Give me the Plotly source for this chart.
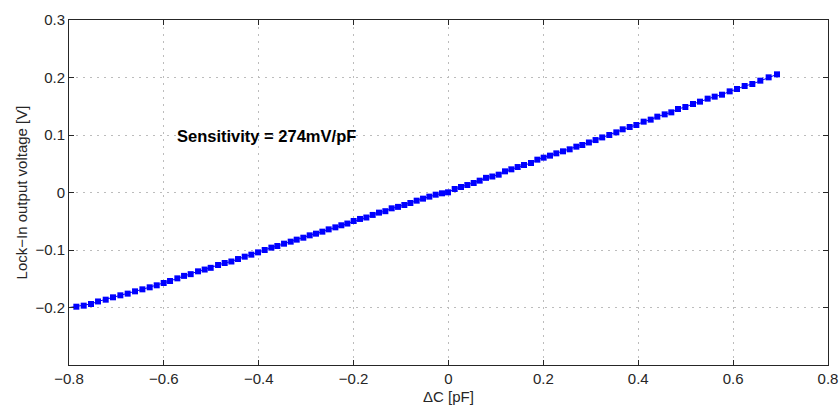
import plotly.graph_objects as go

# ΔC [pF]
delta_c = [
    -0.8100, -0.7845, -0.7690, -0.7536, -0.7388, -0.7226, -0.7072, -0.6917, -0.6763, -0.6608,
    -0.6453, -0.6299, -0.6151, -0.6004, -0.5870, -0.5716, -0.5575, -0.5435, -0.5280, -0.5140,
    -0.5013, -0.4858, -0.4718, -0.4577, -0.4437, -0.4296, -0.4156, -0.4015, -0.3875, -0.3734,
    -0.3608, -0.3467, -0.3327, -0.3200, -0.3060, -0.2926, -0.2793, -0.2659, -0.2526, -0.2385,
    -0.2259, -0.2132, -0.1999, -0.1865, -0.1732, -0.1598, -0.1465, -0.1331, -0.1198, -0.1064,
    -0.0931, -0.0804, -0.0671, -0.0537, -0.0404, -0.0270, -0.0137, -0.0010, 0.0130, 0.0264,
    0.0397, 0.0531, 0.0657, 0.0791, 0.0924, 0.1058, 0.1191, 0.1325, 0.1458, 0.1592,
    0.1739, 0.1873, 0.2006, 0.2140, 0.2273, 0.2414, 0.2554, 0.2695, 0.2821, 0.2960,
    0.3100, 0.3240, 0.3390, 0.3538, 0.3672, 0.3819, 0.3960, 0.4114, 0.4262, 0.4402,
    0.4557, 0.4697, 0.4838, 0.4993, 0.5154, 0.5302, 0.5463, 0.5611, 0.5765, 0.5927,
    0.6082, 0.6243, 0.6405, 0.6573, 0.6749, 0.6925,
]

# Lock-In output voltage [V]
voltage = [
    -0.2015, -0.1986, -0.1968, -0.1939, -0.1895, -0.1864, -0.1823, -0.1788, -0.1759, -0.1719,
    -0.1684, -0.1649, -0.1614, -0.1574, -0.1539, -0.1493, -0.1450, -0.1420, -0.1371, -0.1340,
    -0.1310, -0.1261, -0.1226, -0.1200, -0.1157, -0.1116, -0.1081, -0.1041, -0.1000, -0.0959,
    -0.0930, -0.0890, -0.0855, -0.0820, -0.0786, -0.0745, -0.0716, -0.0681, -0.0641, -0.0606,
    -0.0570, -0.0540, -0.0496, -0.0460, -0.0435, -0.0390, -0.0350, -0.0325, -0.0275, -0.0250,
    -0.0217, -0.0183, -0.0142, -0.0107, -0.0072, -0.0038, -0.0014, 0.0003, 0.0061, 0.0096,
    0.0130, 0.0165, 0.0206, 0.0255, 0.0278, 0.0310, 0.0368, 0.0403, 0.0443, 0.0478,
    0.0513, 0.0571, 0.0606, 0.0641, 0.0681, 0.0716, 0.0751, 0.0797, 0.0826, 0.0870,
    0.0912, 0.0958, 0.1000, 0.1046, 0.1099, 0.1139, 0.1174, 0.1232, 0.1267, 0.1319,
    0.1359, 0.1394, 0.1452, 0.1487, 0.1539, 0.1580, 0.1632, 0.1667, 0.1701, 0.1759,
    0.1800, 0.1852, 0.1887, 0.1945, 0.2003, 0.2055,
]

x_ticks = [-0.8, -0.6, -0.4, -0.2, 0, 0.2, 0.4, 0.6, 0.8]
y_ticks = [-0.2, -0.1, 0, 0.1, 0.2, 0.3]

annotation_text = "Sensitivity = 274mV/pF"
x_title = "ΔC [pF]"
y_title = "Lock−In output voltage [V]"

FONT = "Liberation Sans, Arial, Helvetica, sans-serif"
AXIS_COLOR = "#262626"

fig = go.Figure()
fig.add_trace(go.Scatter(
    x=delta_c, y=voltage,
    mode="lines+markers",
    line=dict(color="#0000ff", width=1),
    marker=dict(symbol="square", size=6, color="#0000ff", line=dict(width=0)),
    showlegend=False,
    cliponaxis=True,
))

axis_common = dict(
    showline=True, linecolor=AXIS_COLOR, linewidth=1, mirror="ticks",
    ticks="inside", ticklen=5, tickcolor=AXIS_COLOR, tickwidth=1,
    showgrid=True, gridcolor="#bcbcbc", griddash="2px,5px", gridwidth=1,
    zeroline=False, automargin=False,
    tickfont=dict(family=FONT, size=15, color=AXIS_COLOR),
)

fig.update_xaxes(
    range=[-0.8, 0.8], tickvals=x_ticks,
    title=dict(text=x_title, font=dict(family=FONT, size=15, color=AXIS_COLOR), standoff=5),
    **axis_common,
)
fig.update_yaxes(
    range=[-0.3, 0.3], tickvals=y_ticks,
    title=dict(text=y_title, font=dict(family=FONT, size=15, color=AXIS_COLOR), standoff=4),
    **axis_common,
)

fig.add_annotation(
    x=-0.577, y=0.098, xref="x", yref="y",
    text="<b>" + annotation_text + "</b>",
    showarrow=False, xanchor="left", yanchor="middle",
    font=dict(family=FONT, size=16.5, color="#000000"),
)

fig.update_layout(
    width=840, height=408,
    margin=dict(l=69, r=12, t=20, b=43),
    paper_bgcolor="white", plot_bgcolor="white",
)

fig.write_html(
    "out.html",
    config={"displayModeBar": False, "staticPlot": True},
    post_script="document.body.style.margin='0';document.body.style.overflow='hidden';",
)
